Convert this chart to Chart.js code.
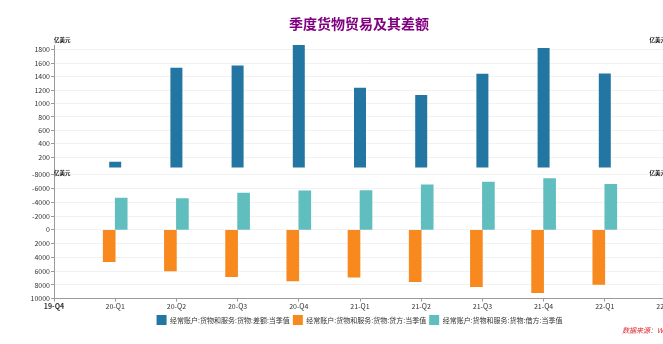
<!DOCTYPE html>
<html>
<head>
<meta charset="utf-8">
<script src="https://cdn.jsdelivr.net/npm/chart.js@4.4.1/dist/chart.umd.min.js"></script>
<style>
html, body { margin: 0; padding: 0; overflow: hidden; background: #fff; }
#wrap { width: 719px; height: 344px; }
</style>
</head>
<body>
<div id="wrap"><canvas id="tradeChart" width="719" height="344"></canvas></div>
<script>
// quarterly goods trade, 100m USD
const quarters = ["19-Q4", "20-Q1", "20-Q2", "20-Q3", "20-Q4", "21-Q1", "21-Q2", "21-Q3", "21-Q4", "22-Q1", "22-Q2"];
const balance = [null, 131, 1532, 1566, 1869, 1234, 1124, 1442, 1824, 1447, null];
const credit = [null, 4620, 5970, 6800, 7430, 6900, 7550, 8250, 9150, 7950, null];
const debit = [null, -4600, -4560, -5330, -5680, -5720, -6550, -6930, -7470, -6600, null];
const balanceTicks = [200, 400, 600, 800, 1000, 1200, 1400, 1600, 1800];
const flowTicks = [-8000, -6000, -4000, -2000, 0, 2000, 4000, 6000, 8000, 10000];

const FONT = "'Noto Sans CJK SC', 'Noto Sans', sans-serif";
Chart.defaults.font.family = FONT;
Chart.defaults.font.size = 7;
Chart.defaults.color = "#333";

const axisGray = "#9a9a9a";
const gridGray = "#f2f2f2";

// title, unit names and source line
const textLayer = {
	id: "textLayer",
	afterLayout(chart) {
		// legend centred on the whole canvas, not on the padded box
		chart.legend.left = 0;
		chart.legend.right = chart.width;
		chart.legend.width = chart.width;
	},
	afterDraw(chart) {
		const { ctx, chartArea, scales } = chart;
		ctx.save();
		ctx.textBaseline = "middle";

		ctx.fillStyle = "#800080";
		ctx.font = "bold 14px " + FONT;
		ctx.textAlign = "center";
		ctx.fillText("季度货物贸易及其差额", 359, 23.5);

		ctx.fillStyle = "#111";
		ctx.font = "bold 5.5px " + FONT;
		const topY = scales.balance.top - 5.5;
		const lowY = scales.flow.getPixelForValue(-8000) - 1.5;
		ctx.textAlign = "left";
		ctx.fillText("亿美元", chartArea.left, topY);
		ctx.fillText("亿美元", chartArea.left, lowY);
		ctx.textAlign = "right";
		ctx.fillText("亿美元", chartArea.right, topY);
		ctx.fillText("亿美元", chartArea.right, lowY);

		ctx.fillStyle = "#e0242a";
		ctx.font = "italic 7px " + FONT;
		ctx.textAlign = "left";
		ctx.fillText("数据来源：Wind", 622, 330);
		ctx.restore();
	}
};

const fixedTicks = (values) => (scale) => {
	scale.ticks = values.map((v) => ({ value: v }));
};

const axisWidth = (s) => { s.width = 54; };

new Chart(document.getElementById("tradeChart"), {
	type: "bar",
	data: {
		labels: quarters,
		datasets: [
			{
				label: "经常账户:货物和服务:货物:差额:当季值",
				data: balance,
				yAxisID: "balance",
				backgroundColor: "#2376a2",
				borderWidth: 0,
				grouped: false,
				maxBarThickness: 12,
			},
			{
				label: "经常账户:货物和服务:货物:贷方:当季值",
				data: credit,
				yAxisID: "flow",
				backgroundColor: "#f7891f",
				borderWidth: 0,
				barThickness: 12,
			},
			{
				label: "经常账户:货物和服务:货物:借方:当季值",
				data: debit,
				yAxisID: "flow",
				backgroundColor: "#60bebf",
				borderWidth: 0,
				barThickness: 12,
			},
		],
	},
	options: {
		responsive: false,
		animation: false,
		devicePixelRatio: 1,
		layout: {
			padding: { top: 45, right: 53, bottom: 9, left: 0 },
		},
		plugins: {
			title: { display: false },
			tooltip: { enabled: false },
			legend: {
				position: "bottom",
				labels: {
					boxWidth: 10,
					boxHeight: 10,
					padding: 3,
					color: "#333",
					font: { size: 7 },
				},
			},
		},
		scales: {
			x: {
				type: "category",
				offset: false,
				grid: {
					offset: false,
					drawOnChartArea: false,
					tickLength: 3,
					tickColor: axisGray,
				},
				border: { color: axisGray },
				ticks: {
					padding: 1,
					maxRotation: 0,
					autoSkip: false,
					color: "#333",
					font: (c) => ({ size: 7, weight: c.index === 0 ? "bold" : "normal" }),
				},
			},
			// lower panel first: stacked axes are laid out from the bottom up
			flow: {
				type: "linear",
				position: "left",
				stack: "trade",
				stackWeight: 131,
				reverse: true,
				min: -9050,
				max: 10000,
				afterBuildTicks: fixedTicks(flowTicks),
				afterFit: axisWidth,
				grid: { color: gridGray, tickLength: 3, tickColor: axisGray },
				border: { color: axisGray },
				ticks: { padding: 1, autoSkip: false, callback: (v) => String(v) },
			},
			balance: {
				type: "linear",
				position: "left",
				stack: "trade",
				stackWeight: 122.6,
				min: 45,
				max: 1870,
				afterBuildTicks: fixedTicks(balanceTicks),
				afterFit: axisWidth,
				grid: { color: gridGray, tickLength: 3, tickColor: axisGray },
				border: { color: axisGray },
				ticks: { padding: 1, autoSkip: false, callback: (v) => String(v) },
			},
		},
	},
	plugins: [textLayer],
});
</script>
</body>
</html>
